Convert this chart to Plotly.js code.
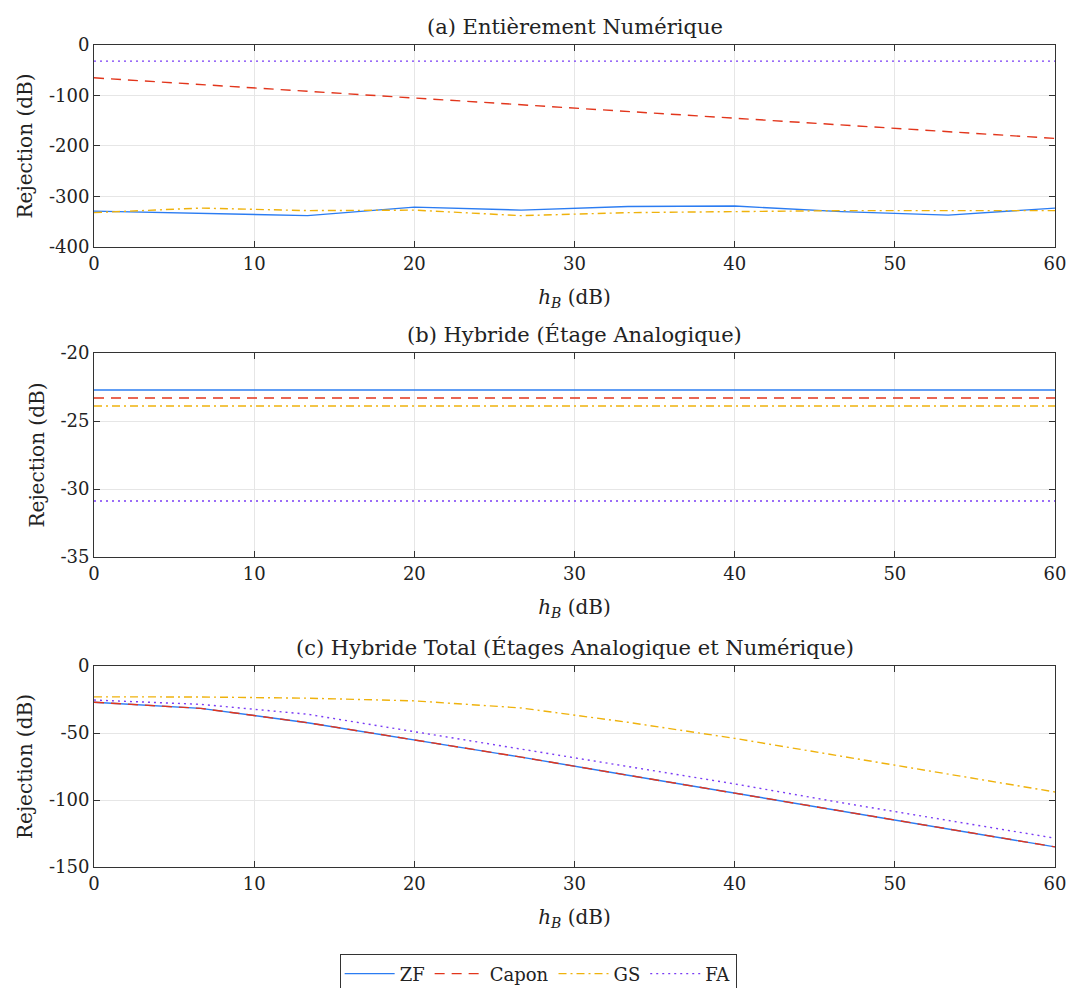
<!DOCTYPE html>
<html><head><meta charset="utf-8">
<script src="https://cdn.plot.ly/plotly-3.0.1.min.js"></script>
<style>html,body{margin:0;padding:0;background:#fff}</style>
</head><body><div id="chart" style="width:1072px;height:988px"></div>
<script>
// x values (h_B in dB)
const hB = [0, 6.667, 13.333, 20, 26.667, 33.333, 40, 46.667, 53.333, 60];
// (a) Entièrement Numérique
const aZF    = [-329, -334, -338, -321, -327, -320, -319, -330, -337, -323];
const aCapon = [-65, -78.3, -91.7, -105, -118.3, -131.7, -145, -158.3, -171.7, -185];
const aGS    = [-332, -323, -328, -327, -338, -332, -330, -328, -328, -328];
const aFA    = [-32, -32, -32, -32, -32, -32, -32, -32, -32, -32];
// (b) Hybride (Étage Analogique)
const bZF    = [-22.72, -22.72, -22.72, -22.72, -22.72, -22.72, -22.72, -22.72, -22.72, -22.72];
const bCapon = [-23.31, -23.31, -23.31, -23.31, -23.31, -23.31, -23.31, -23.31, -23.31, -23.31];
const bGS    = [-23.9, -23.9, -23.9, -23.9, -23.9, -23.9, -23.9, -23.9, -23.9, -23.9];
const bFA    = [-30.88, -30.88, -30.88, -30.88, -30.88, -30.88, -30.88, -30.88, -30.88, -30.88];
// (c) Hybride Total
const cZF    = [-27, -31.6, -42.3, -55, -68, -81.5, -95, -108.4, -121.8, -135];
const cCapon = [-27, -31.6, -42.3, -55, -68, -81.5, -95, -108.4, -121.8, -135];
const cGS    = [-23, -23.1, -24, -26, -31.3, -42, -54, -67.3, -80.5, -94];
const cFA    = [-25.4, -28.6, -36, -49, -62, -75.5, -88, -102, -115.5, -128.5];

const names = ['ZF', 'Capon', 'GS', 'FA'];
const colors = ['#2b7cf2', '#e2361c', '#efb20c', '#7a3cf5'];
const dashes = ['solid', '10px,7px', '8px,4px,2px,4px', '2px,4px'];
const panels = [[aZF, aCapon, aGS, aFA], [bZF, bCapon, bGS, bFA], [cZF, cCapon, cGS, cFA]];

const traces = [];
panels.forEach((p, pi) => {
  p.forEach((ys, si) => {
    traces.push({
      x: hB, y: ys, type: 'scatter', mode: 'lines', name: names[si],
      showlegend: pi === 0, legendgroup: names[si],
      xaxis: pi === 0 ? 'x' : 'x' + (pi + 1),
      yaxis: pi === 0 ? 'y' : 'y' + (pi + 1),
      line: {color: colors[si], width: 1.4, dash: dashes[si]}
    });
  });
});

const fam = 'DejaVu Serif, Liberation Serif, serif';
const font = {family: fam, size: 18, color: '#222'};
const xticks = [0, 10, 20, 30, 40, 50, 60];
function xax(anchor) {
  return {
    anchor: anchor, domain: [0, 1], range: [0, 60], tickvals: xticks,
    ticktext: xticks.map(String), ticks: 'inside', ticklen: 6, tickcolor: '#333',
    showline: true, mirror: 'ticks', linecolor: '#333', linewidth: 1,
    showgrid: true, gridcolor: '#e6e6e6', zeroline: false,
    tickfont: {family: fam, size: 18, color: '#222'},
    title: {text: '<i>h</i><sub><i>B</i></sub> (dB)', font: {family: fam, size: 20, color: '#222'}, standoff: 17}
  };
}
function yax(anchor, dom, range, vals) {
  return {
    anchor: anchor, domain: dom, range: range, tickvals: vals,
    ticktext: vals.map(v => v < 0 ? '-' + Math.abs(v) : String(v)),
    ticks: 'inside', ticklen: 6, tickcolor: '#333',
    showline: true, mirror: 'ticks', linecolor: '#333', linewidth: 1,
    showgrid: true, gridcolor: '#e6e6e6', zeroline: false,
    tickfont: {family: fam, size: 18, color: '#222'},
    title: {text: 'Rejection (dB)', font: {family: fam, size: 20, color: '#222'}, standoff: 10}
  };
}

const layout = {
  width: 1072, height: 988,
  margin: {l: 94, r: 17, t: 45, b: 121},
  paper_bgcolor: '#fff', plot_bgcolor: '#fff',
  font: font,
  showlegend: true,
  legend: {
    orientation: 'h', xref: 'container', yref: 'container',
    x: 0.502, xanchor: 'center', y: 0.034, yanchor: 'top',
    bordercolor: '#333', borderwidth: 1, bgcolor: '#fff',
    font: {family: fam, size: 18, color: '#222'},
    itemwidth: 50, tracegroupgap: 0
  },
  xaxis: xax('y'),
  yaxis: yax('x', [0.7543, 1], [-400, 0], [0, -100, -200, -300, -400]),
  xaxis2: xax('y2'),
  yaxis2: yax('x2', [0.3771, 0.6253], [-35, -20], [-20, -25, -30, -35]),
  xaxis3: xax('y3'),
  yaxis3: yax('x3', [0, 0.2445], [-150, 0], [0, -50, -100, -150]),
  annotations: [
    {text: '(a) Entièrement Numérique', xref: 'paper', yref: 'paper', x: 0.5, y: 1, yanchor: 'bottom', yshift: 4, showarrow: false, font: {family: fam, size: 21, color: '#222'}},
    {text: '(b) Hybride (Étage Analogique)', xref: 'paper', yref: 'paper', x: 0.5, y: 0.6253, yanchor: 'bottom', yshift: 4, showarrow: false, font: {family: fam, size: 21, color: '#222'}},
    {text: '(c) Hybride Total (Étages Analogique et Numérique)', xref: 'paper', yref: 'paper', x: 0.5, y: 0.2445, yanchor: 'bottom', yshift: 4, showarrow: false, font: {family: fam, size: 21, color: '#222'}}
  ]
};

Plotly.newPlot('chart', traces, layout, {displayModeBar: false, staticPlot: true});
</script></body></html>
